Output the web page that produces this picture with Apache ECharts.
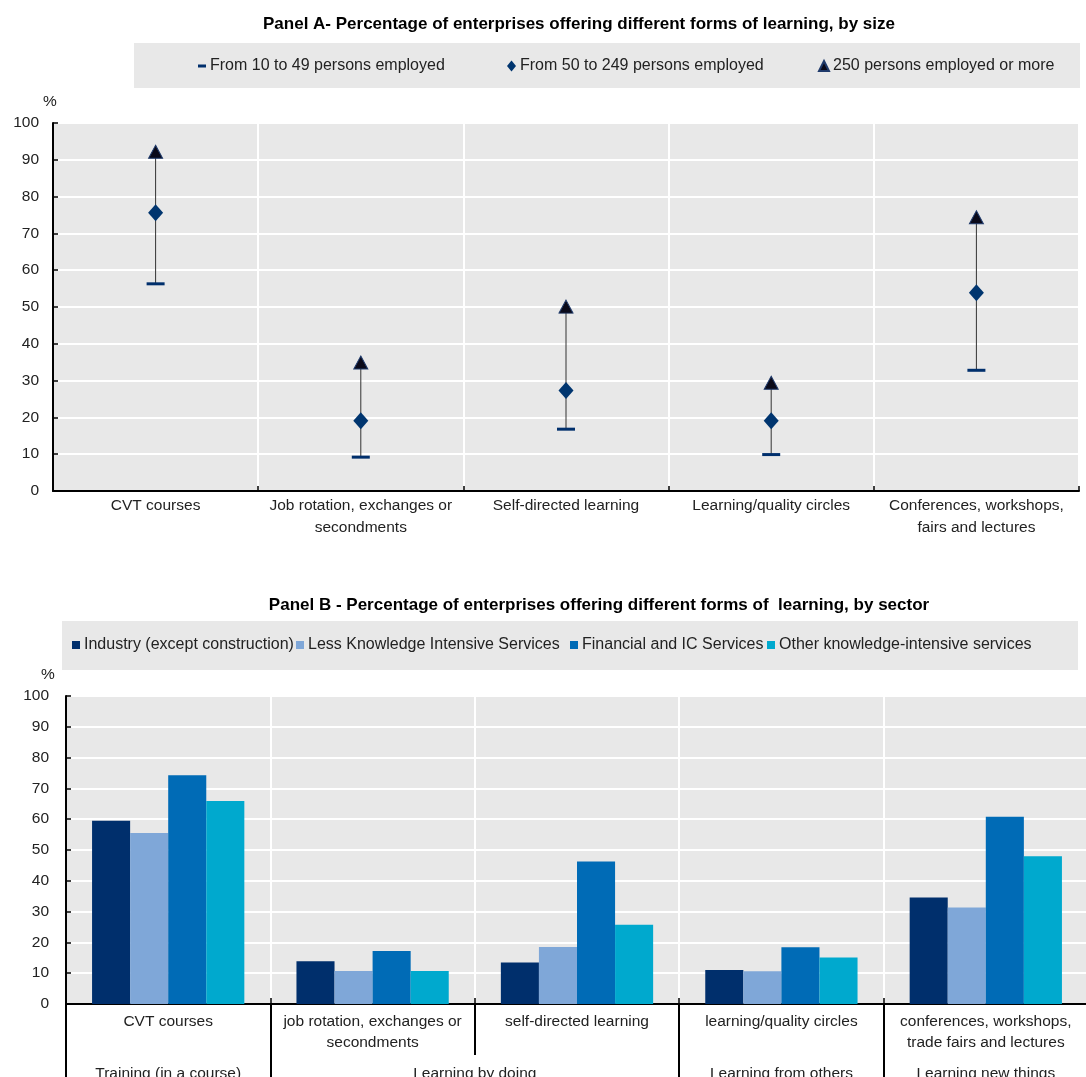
<!DOCTYPE html>
<html>
<head>
<meta charset="utf-8">
<script src="https://cdn.jsdelivr.net/npm/echarts@6/dist/echarts.min.js"></script>
<style>
html,body{margin:0;padding:0;background:#fff;}
#chart{width:1086px;height:1077px;}
</style>
</head>
<body>
<div id="chart"></div>
<script>
// ---------- Data ----------
const titleA = 'Panel A- Percentage of enterprises offering different forms of learning, by size';
const titleB = 'Panel B - Percentage of enterprises offering different forms of  learning, by sector';

const categoriesA = ['CVT courses', 'Job rotation, exchanges or\nsecondments', 'Self-directed learning', 'Learning/quality circles', 'Conferences, workshops,\nfairs and lectures'];
const sizeNames = ['From 10 to 49 persons employed', 'From 50 to 249 persons employed', '250 persons employed or more'];
const small = [56.3, 9.2, 16.8, 9.9, 32.8];
const medium = [75.6, 19.1, 27.3, 19.1, 53.9];
const large = [92.2, 34.9, 50.1, 29.4, 74.4];

const categoriesB = ['CVT courses', 'job rotation, exchanges or\nsecondments', 'self-directed learning', 'learning/quality circles', 'conferences, workshops,\ntrade fairs and lectures'];
const sectorNames = ['Industry (except construction)', 'Less Knowledge Intensive Services', 'Financial and IC Services', 'Other knowledge-intensive services'];
const industry = [59.5, 13.9, 13.5, 11.0, 34.6];
const lessKnowledge = [55.5, 10.7, 18.5, 10.6, 31.3];
const financial = [74.3, 17.2, 46.3, 18.4, 60.8];
const otherKnowledge = [65.9, 10.7, 25.7, 15.1, 48.0];

const groupNames = ['Training (in a course)', 'Learning by doing', 'Learning from others', 'Learning new things'];
const groupStart = [0, 1, 3, 4];
const groupEnd = [1, 3, 4, 5];

const yTicks = [0, 10, 20, 30, 40, 50, 60, 70, 80, 90, 100];

// ---------- Styles ----------
const FONT = '"Liberation Sans", Arial, sans-serif';
const TXT = '#222222';
const BG = '#e8e8e8';
const sectorColors = ['#002F6C', '#7FA7D8', '#006BB6', '#00A9CE'];

const chart = echarts.init(document.getElementById('chart'), null, {renderer: 'canvas'});

const groupMid = groupStart.map((s, i) => (s + groupEnd[i]) / 2);
const groupBounds = [0].concat(groupEnd);

function yAxisCfg(gridIndex, margin, namePad) {
  return {
    type: 'value', gridIndex: gridIndex, min: yTicks[0], max: yTicks[yTicks.length - 1], interval: 10,
    name: '%', nameLocation: 'end', nameGap: 13,
    nameTextStyle: {color: TXT, fontSize: 15.5, fontFamily: FONT, padding: namePad},
    axisLine: {show: true, lineStyle: {color: '#000', width: 2}},
    axisTick: {show: true, inside: true, length: 5, lineStyle: {color: '#000', width: 1.5}},
    axisLabel: {color: TXT, fontSize: 15.5, fontFamily: FONT, margin: margin},
    splitLine: {show: true, lineStyle: {color: '#ffffff', width: 2}}
  };
}
function hiddenY(gridIndex) {
  return {type: 'value', gridIndex: gridIndex, min: 0, max: 100, show: false};
}

function legendItem(name, left, top, icon, w, h) {
  return {
    data: [name], left: left, top: top, icon: icon, itemWidth: w, itemHeight: h, itemGap: 0,
    padding: 0, selectedMode: false,
    textStyle: {color: TXT, fontSize: 16, fontFamily: FONT, padding: [0, 0, 0, -1], lineHeight: 16}
  };
}

function gridCfg(left, top, width, height, showBg) {
  return {
    left: left, top: top, width: width, height: height, show: showBg,
    backgroundColor: BG, borderWidth: 0, containLabel: false, outerBoundsMode: 'none'
  };
}

const option = {
  animation: false,
  backgroundColor: '#ffffff',
  title: [
    {text: titleA, left: 574, top: 11, textAlign: 'center', textStyle: {fontSize: 17, fontWeight: 'bold', color: '#000', fontFamily: FONT}},
    {text: titleB, left: 594, top: 592, textAlign: 'center', textStyle: {fontSize: 17, fontWeight: 'bold', color: '#000', fontFamily: FONT}}
  ],
  graphic: [
    {type: 'rect', left: 134, top: 43, shape: {width: 946, height: 45}, style: {fill: BG}, z: -10, silent: true},
    {type: 'rect', left: 62, top: 621, shape: {width: 1016, height: 49}, style: {fill: BG}, z: -10, silent: true}
  ],
  legend: [
    legendItem(sizeNames[0], 198, 58, 'rect', 8, 3),
    legendItem(sizeNames[1], 507, 58, 'diamond', 9, 11),
    legendItem(sizeNames[2], 818, 58, 'triangle', 10, 10),
    legendItem(sectorNames[0], 72, 637, 'rect', 8, 8),
    legendItem(sectorNames[1], 296, 637, 'rect', 8, 8),
    legendItem(sectorNames[2], 570, 637, 'rect', 8, 8),
    legendItem(sectorNames[3], 767, 637, 'rect', 8, 8)
  ],
  grid: [
    gridCfg(53, 123, 1026, 368, true),
    gridCfg(66, 696, 1022, 308, true),
    gridCfg(66, 696, 1022, 308, false),
    gridCfg(66, 696, 1022, 308, false)
  ],
  xAxis: [
    {
      type: 'category', gridIndex: 0, data: categoriesA, boundaryGap: true,
      axisLine: {show: true, lineStyle: {color: '#000', width: 2}},
      axisTick: {show: true, inside: true, length: 5, lineStyle: {color: '#000', width: 1.5}},
      axisLabel: {interval: 0, color: TXT, fontSize: 15.5, fontFamily: FONT, margin: 4, lineHeight: 22},
      splitLine: {show: true, lineStyle: {color: '#ffffff', width: 2}}
    },
    {
      type: 'category', gridIndex: 1, data: categoriesB, boundaryGap: true,
      axisLine: {show: true, lineStyle: {color: '#000', width: 2}},
      axisTick: {show: true, inside: true, length: 6, lineStyle: {color: '#000', width: 1.5}},
      axisLabel: {interval: 0, color: TXT, fontSize: 15.5, fontFamily: FONT, margin: 7, lineHeight: 21},
      splitLine: {show: true, lineStyle: {color: '#ffffff', width: 2}}
    },
    {
      type: 'value', gridIndex: 2, min: 0, max: 5, position: 'bottom',
      axisLine: {show: false},
      splitLine: {show: false},
      axisTick: {show: true, customValues: groupBounds.filter(v => v !== 2), length: 75, lineStyle: {color: '#000', width: 2}},
      axisLabel: {
        show: true, customValues: groupMid, color: TXT, fontSize: 15.5, fontFamily: FONT, margin: 59, lineHeight: 21,
        formatter: function (v) { const i = groupMid.indexOf(v); return i >= 0 ? groupNames[i] : ''; }
      }
    },
    {
      type: 'value', gridIndex: 3, min: 0, max: 5, position: 'bottom',
      axisLine: {show: false},
      splitLine: {show: false},
      axisTick: {show: true, customValues: [groupEnd[0], groupEnd[1] - 1, groupEnd[1], groupEnd[2]], length: 51, lineStyle: {color: '#000', width: 2}},
      axisLabel: {show: false}
    }
  ],
  yAxis: [
    yAxisCfg(0, 14, [0, 6, 0, 0]),
    yAxisCfg(1, 17, [0, 36, 0, 0]),
    hiddenY(2),
    hiddenY(3)
  ],
  series: [
    {
      type: 'custom', name: 'range', xAxisIndex: 0, yAxisIndex: 0, z: 1,
      data: categoriesA.map((c, i) => [i, small[i], large[i]]),
      renderItem: function (params, api) {
        const p1 = api.coord([api.value(0), api.value(1)]);
        const p2 = api.coord([api.value(0), api.value(2)]);
        return {type: 'line', shape: {x1: p1[0], y1: p1[1], x2: p2[0], y2: p2[1]}, style: {stroke: '#333333', lineWidth: 1}};
      },
      silent: true
    },
    {
      type: 'scatter', name: sizeNames[0], xAxisIndex: 0, yAxisIndex: 0, z: 3,
      symbol: 'rect', symbolSize: [18, 3], data: small,
      itemStyle: {color: '#002F6C', opacity: 1}
    },
    {
      type: 'scatter', name: sizeNames[1], xAxisIndex: 0, yAxisIndex: 0, z: 3,
      symbol: 'diamond', symbolSize: [15, 17], data: medium,
      itemStyle: {color: '#00356F', opacity: 1}
    },
    {
      type: 'scatter', name: sizeNames[2], xAxisIndex: 0, yAxisIndex: 0, z: 3,
      symbol: 'triangle', symbolSize: [14, 13], data: large,
      itemStyle: {color: '#0a0a1a', borderColor: '#1f3a6b', borderWidth: 1, opacity: 1}
    },
    {type: 'bar', name: sectorNames[0], xAxisIndex: 1, yAxisIndex: 1, data: industry, barGap: 0, barCategoryGap: '25.5%', itemStyle: {color: sectorColors[0]}},
    {type: 'bar', name: sectorNames[1], xAxisIndex: 1, yAxisIndex: 1, data: lessKnowledge, barGap: 0, barCategoryGap: '25.5%', itemStyle: {color: sectorColors[1]}},
    {type: 'bar', name: sectorNames[2], xAxisIndex: 1, yAxisIndex: 1, data: financial, barGap: 0, barCategoryGap: '25.5%', itemStyle: {color: sectorColors[2]}},
    {type: 'bar', name: sectorNames[3], xAxisIndex: 1, yAxisIndex: 1, data: otherKnowledge, barGap: 0, barCategoryGap: '25.5%', itemStyle: {color: sectorColors[3]}}
  ]
};
chart.setOption(option);
</script>
</body>
</html>
